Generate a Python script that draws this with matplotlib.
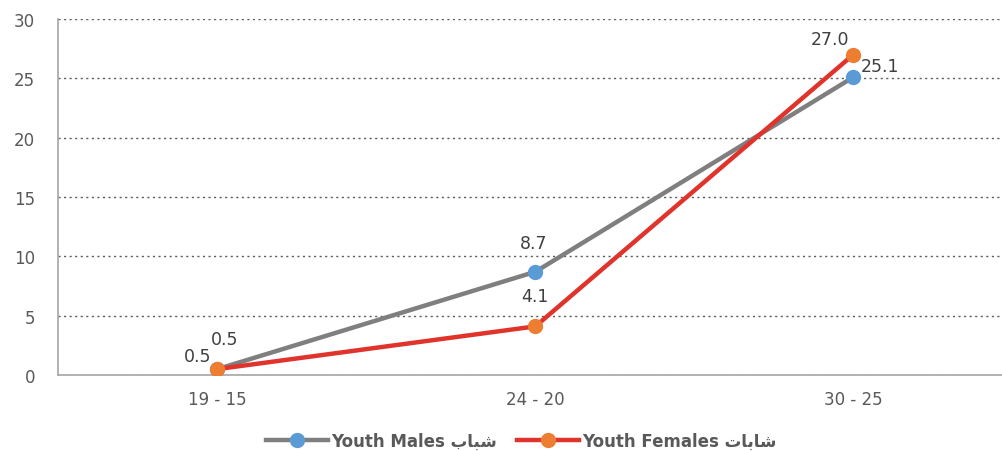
import matplotlib.pyplot as plt
from matplotlib.lines import Line2D

plt.rcParams['font.family'] = ['DejaVu Sans']

# data
categories = ['19 - 15', '24 - 20', '30 - 25']
males = [0.5, 8.7, 25.1]
females = [0.5, 4.1, 27.0]
# Arabic in presentation forms, visual order (matplotlib has no shaping)
males_label = 'Youth Males \ufe8f\ufe8e\ufe92\ufeb7'
females_label = 'Youth Females \ufe95\ufe8e\ufe91\ufe8e\ufeb7'

fig = plt.figure(figsize=(10.03, 4.52), dpi=100)
ax = fig.add_axes([0.058, 0.168, 0.942, 0.788])

x = list(range(len(categories)))
ax.plot(x, males, color='#7f7f7f', lw=3.2, marker='o', ms=10,
        mfc='#5b9bd5', mec='#5b9bd5', zorder=3)
ax.plot(x, females, color='#e0332b', lw=3.2, marker='o', ms=10,
        mfc='#ed7d31', mec='#ed7d31', zorder=4)

# data labels (pixel offsets of label centre from the point)
male_off = [(7, 30), (-2, 29), (27, 11)]
female_off = [(-20, 13), (0, 30), (-23, 16)]
for i in x:
    ax.annotate(f'{males[i]:.1f}', (i, males[i]), xytext=male_off[i],
                textcoords='offset pixels', ha='center', va='center',
                fontsize=12.5, color='#404040')
    ax.annotate(f'{females[i]:.1f}', (i, females[i]), xytext=female_off[i],
                textcoords='offset pixels', ha='center', va='center',
                fontsize=12.5, color='#404040')

ax.set_ylim(0, 30)
ax.set_yticks(range(0, 31, 5))
ax.set_xlim(-0.5, 2.47)
ax.set_xticks(x)
ax.set_xticklabels(categories)
ax.tick_params(axis='both', length=0, labelsize=12, colors='#595959')
ax.tick_params(axis='y', pad=16.5)
ax.tick_params(axis='x', pad=11)

ax.yaxis.grid(True, linestyle=(0, (1.5, 2.5)), color='#595959', lw=1)
ax.set_axisbelow(True)
for s in ['top', 'right']:
    ax.spines[s].set_visible(False)
for s in ['left', 'bottom']:
    ax.spines[s].set_color('#a6a6a6')
    ax.spines[s].set_linewidth(1.2)

handles = [
    Line2D([], [], color='#7f7f7f', lw=3.2, marker='o', ms=10,
           mfc='#5b9bd5', mec='#5b9bd5'),
    Line2D([], [], color='#e0332b', lw=3.2, marker='o', ms=10,
           mfc='#ed7d31', mec='#ed7d31'),
]
fig.legend(handles, [males_label, females_label], loc='lower center',
           bbox_to_anchor=(0.52, -0.03), ncol=2, frameon=False,
           labelcolor='#595959', handlelength=3.7,
           columnspacing=1.2, handletextpad=0.2,
           prop={'weight': 'bold', 'size': 12})

fig.savefig('out.png', dpi=100)
